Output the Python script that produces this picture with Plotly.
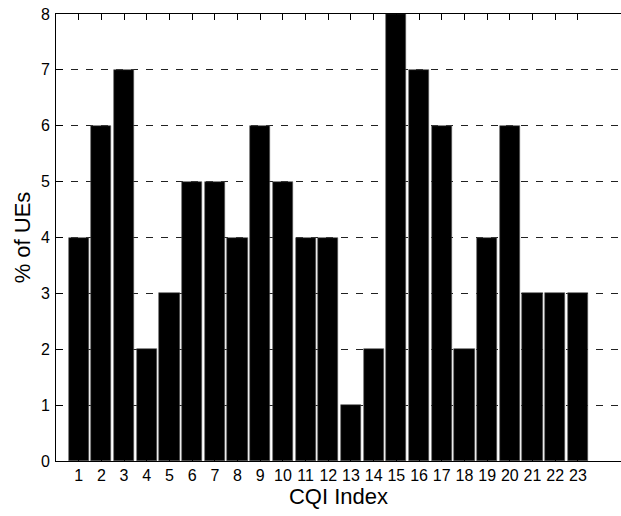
"""Bar chart of UE share per CQI index (MATLAB-style look)."""

import plotly.graph_objects as go

cqi_index = list(range(1, 24))
pct_ues = [4, 6, 7, 2, 3, 5, 5, 4, 6, 5, 4, 4, 1, 2, 8, 7, 6, 2, 4, 6, 3, 3, 3]
y_ticks = [0, 1, 2, 3, 4, 5, 6, 7, 8]

FONT = "Liberation Sans, Arial, sans-serif"

fig = go.Figure()

fig.add_trace(go.Bar(
    x=cqi_index,
    y=pct_ues,
    width=0.89,
    marker=dict(color="black", line=dict(color="#555555", width=0.6)),
    showlegend=False,
))

fig.update_layout(
    width=621,
    height=516,
    margin=dict(l=56, r=0, t=14, b=55),
    paper_bgcolor="white",
    plot_bgcolor="white",
    font=dict(family=FONT, color="black", size=16),
    bargap=0,
)

fig.update_xaxes(
    range=[0, 24.9],
    tickmode="array",
    tickvals=cqi_index,
    ticktext=[str(v) for v in cqi_index],
    ticks="inside",
    ticklen=6,
    tickcolor="black",
    showline=True,
    linecolor="black",
    linewidth=1,
    mirror="ticks",
    showgrid=False,
    zeroline=False,
    tickfont=dict(size=16),
    ticklabeloverflow="allow",
    title=dict(text="CQI Index", font=dict(size=22), standoff=4),
    automargin=False,
)

fig.update_yaxes(
    range=[0, 8],
    tickmode="array",
    tickvals=y_ticks,
    ticks="inside",
    ticklen=7,
    tickcolor="black",
    showline=True,
    linecolor="black",
    linewidth=1,
    showgrid=True,
    gridcolor="#222222",
    gridwidth=1,
    griddash="7px,8px",
    zeroline=False,
    tickfont=dict(size=16),
    ticklabelstandoff=2,
    ticklabeloverflow="allow",
    title=dict(text="% of UEs", font=dict(size=22), standoff=4),
    automargin=False,
)

# drop the default 8px body margin so the figure sits at the page corner
fig.write_html(
    "out.html",
    config={"displayModeBar": False},
    post_script="document.body.style.margin = '0';",
)
